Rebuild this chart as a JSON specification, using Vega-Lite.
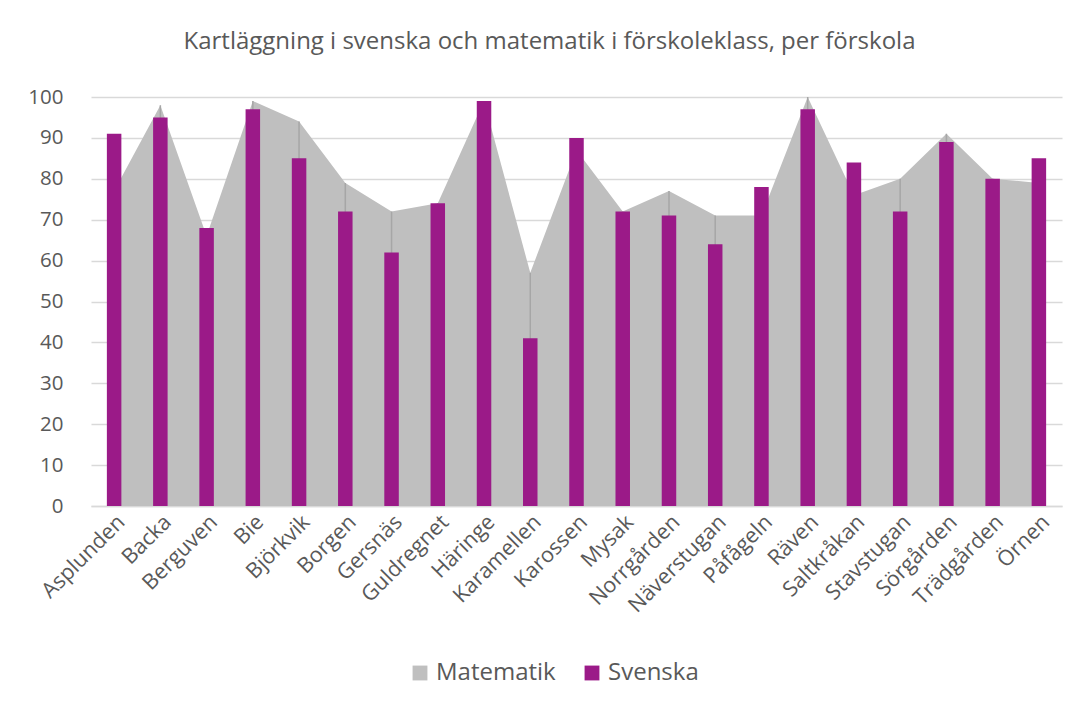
{
  "$schema": "https://vega.github.io/schema/vega-lite/v6.json",
  "width": 971,
  "height": 409,
  "autosize": {"type": "none"},
  "padding": {"left": 91, "top": 97, "right": 18, "bottom": 200},
  "background": "white",
  "config": {"view": {"stroke": null}, "font": "Open Sans"},
  "title": {
    "text": "Kartläggning i svenska och matematik i förskoleklass, per förskola",
    "fontSize": 24,
    "font": "Open Sans",
    "fontWeight": "normal",
    "color": "#595959",
    "offset": 33,
    "dx": -27
  },
  "data": {
    "values": [
      {"school": "Asplunden", "Matematik": 77, "Svenska": 91},
      {"school": "Backa", "Matematik": 98, "Svenska": 95},
      {"school": "Berguven", "Matematik": 66, "Svenska": 68},
      {"school": "Bie", "Matematik": 99, "Svenska": 97},
      {"school": "Björkvik", "Matematik": 94, "Svenska": 85},
      {"school": "Borgen", "Matematik": 79, "Svenska": 72},
      {"school": "Gersnäs", "Matematik": 72, "Svenska": 62},
      {"school": "Guldregnet", "Matematik": 74, "Svenska": 74},
      {"school": "Häringe", "Matematik": 99, "Svenska": 99},
      {"school": "Karamellen", "Matematik": 57, "Svenska": 41},
      {"school": "Karossen", "Matematik": 87, "Svenska": 90},
      {"school": "Mysak", "Matematik": 72, "Svenska": 72},
      {"school": "Norrgården", "Matematik": 77, "Svenska": 71},
      {"school": "Näverstugan", "Matematik": 71, "Svenska": 64},
      {"school": "Påfågeln", "Matematik": 71, "Svenska": 78},
      {"school": "Räven", "Matematik": 100, "Svenska": 97},
      {"school": "Saltkråkan", "Matematik": 76, "Svenska": 84},
      {"school": "Stavstugan", "Matematik": 80, "Svenska": 72},
      {"school": "Sörgården", "Matematik": 91, "Svenska": 89},
      {"school": "Trädgården", "Matematik": 80, "Svenska": 80},
      {"school": "Örnen", "Matematik": 79, "Svenska": 85}
    ]
  },
  "layer": [
    {
      "mark": {"type": "area", "color": "#bfbfbf", "opacity": 1},
      "encoding": {
        "x": {
          "field": "school", "type": "nominal", "sort": null, "bandPosition": 0.5,
          "scale": {"paddingInner": 0, "paddingOuter": 0},
          "axis": {
            "title": null, "labelAngle": -45, "labelFontSize": 21.5, "labelColor": "#595959",
            "labelAlign": "right", "labelBaseline": "top", "labelPadding": 5,
            "ticks": false, "domainColor": "#d9d9d9", "domainWidth": 1.3, "grid": false
          }
        },
        "y": {
          "field": "Matematik", "type": "quantitative",
          "scale": {"domain": [0, 100], "nice": false},
          "axis": {
            "title": null, "values": [0,10,20,30,40,50,60,70,80,90,100],
            "labelFontSize": 20.5, "labelColor": "#595959", "labelPadding": 28,
            "ticks": false, "domain": false, "gridColor": "#d9d9d9", "gridWidth": 1.3
          }
        },
        "color": {
          "datum": "Matematik", "type": "nominal",
          "scale": {"domain": ["Matematik", "Svenska"], "range": ["#bfbfbf", "#9b1a88"]},
          "legend": {
            "title": null, "orient": "none", "legendX": 317, "legendY": 564,
            "direction": "horizontal", "symbolType": "square", "symbolSize": 220,
            "symbolStrokeWidth": 0, "labelFontSize": 24, "labelColor": "#595959",
            "columnPadding": 24, "labelOffset": 4
          }
        }
      }
    },
    {
      "mark": {"type": "rule", "color": "#a6a6a6", "strokeWidth": 1.5},
      "encoding": {
        "x": {"field": "school", "type": "nominal", "sort": null, "bandPosition": 0.5},
        "y": {"field": "Matematik", "type": "quantitative"},
        "y2": {"datum": 0}
      }
    },
    {
      "mark": {"type": "bar", "width": 14.5, "color": "#9b1a88"},
      "encoding": {
        "x": {"field": "school", "type": "nominal", "sort": null},
        "y": {"field": "Svenska", "type": "quantitative"},
        "color": {"datum": "Svenska", "type": "nominal"}
      }
    }
  ]
}
